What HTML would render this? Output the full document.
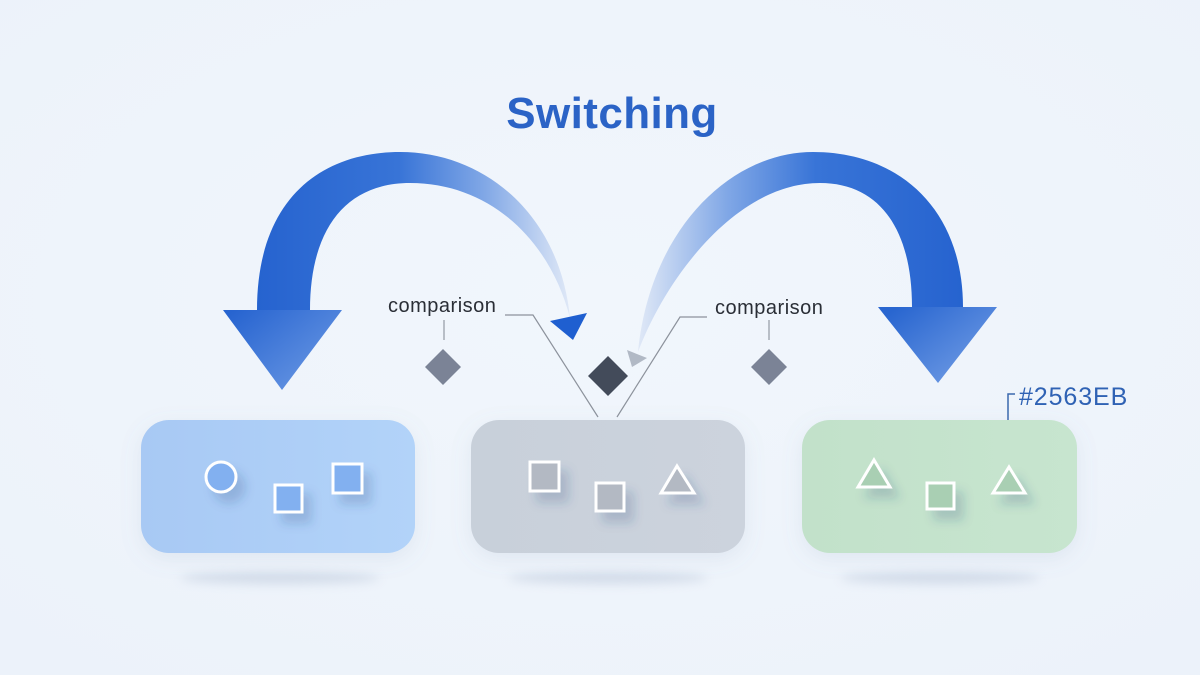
<!DOCTYPE html>
<html><head><meta charset="utf-8"><style>
html,body{margin:0;padding:0;background:#eef4fb;}
svg{display:block;}
text{font-family:"Liberation Sans",sans-serif;}
</style></head><body>
<svg width="1200" height="675" viewBox="0 0 1200 675" xmlns="http://www.w3.org/2000/svg">
<defs>
<radialGradient id="bg" cx="0.5" cy="0.45" r="0.75">
<stop offset="0" stop-color="#f1f6fc"/><stop offset="1" stop-color="#ecf2fa"/>
</radialGradient>
<linearGradient id="gl" gradientUnits="userSpaceOnUse" x1="257" y1="0" x2="572" y2="0">
<stop offset="0" stop-color="#2663cf"/><stop offset="0.45" stop-color="#3874d7"/><stop offset="0.72" stop-color="#80a7e6"/><stop offset="1" stop-color="#e2eaf7"/>
</linearGradient>
<linearGradient id="gr" gradientUnits="userSpaceOnUse" x1="636" y1="0" x2="963" y2="0">
<stop offset="0" stop-color="#e2eaf7"/><stop offset="0.28" stop-color="#80a7e6"/><stop offset="0.55" stop-color="#3874d7"/><stop offset="1" stop-color="#2663cf"/>
</linearGradient>
<linearGradient id="hl" gradientUnits="userSpaceOnUse" x1="240" y1="305" x2="310" y2="390">
<stop offset="0" stop-color="#2764d0"/><stop offset="1" stop-color="#6594e2"/>
</linearGradient>
<linearGradient id="hr" gradientUnits="userSpaceOnUse" x1="900" y1="305" x2="960" y2="385">
<stop offset="0" stop-color="#2966d0"/><stop offset="1" stop-color="#6b98e3"/>
</linearGradient>
<linearGradient id="bl" x1="0" y1="0" x2="1" y2="0">
<stop offset="0" stop-color="#a8c9f4"/><stop offset="1" stop-color="#b2d3f9"/>
</linearGradient>
<linearGradient id="bm" x1="0" y1="0" x2="1" y2="0">
<stop offset="0" stop-color="#c8d0da"/><stop offset="1" stop-color="#ccd3dd"/>
</linearGradient>
<linearGradient id="bg3" x1="0" y1="0" x2="1" y2="0">
<stop offset="0" stop-color="#c2e1ca"/><stop offset="1" stop-color="#c7e5cf"/>
</linearGradient>
<filter id="sh" x="-50%" y="-50%" width="250%" height="250%">
<feDropShadow dx="8" dy="10" stdDeviation="5" flood-color="#2a4a7a" flood-opacity="0.2"/>
</filter>
<filter id="bsh" x="-20%" y="-30%" width="140%" height="160%">
<feDropShadow dx="0" dy="6" stdDeviation="10" flood-color="#7890b0" flood-opacity="0.13"/>
</filter>
<filter id="blur" x="-30%" y="-300%" width="160%" height="700%"><feGaussianBlur stdDeviation="5"/></filter>
</defs>
<rect width="1200" height="675" fill="url(#bg)"/>

<!-- title -->
<text x="612" y="128" text-anchor="middle" font-size="44" font-weight="bold" fill="#2b63c6" letter-spacing="0.4">Switching</text>

<!-- left arrow -->
<path d="M257,310 C257,200 320,152 400,152 C485,152 560,215 570,318 C550,240 490,183 410,183 C345,183 310,230 310,310 Z" fill="url(#gl)"/>
<polygon points="223,310 342,310 282,390" fill="url(#hl)"/>
<polygon points="550,321 587,313 573,340" fill="#1f5fd0"/>

<!-- right arrow -->
<path d="M963,307 C963,210 900,152 813,152 C730,152 650,230 638,352 C665,280 735,183 820,183 C880,183 912,230 912,307 Z" fill="url(#gr)"/>
<polygon points="878,307 997,307 938,383" fill="url(#hr)"/>
<polygon points="627,350 647,358 632,367" fill="#b1b9c5"/>

<!-- labels -->
<text x="388" y="312" font-size="20" fill="#2a2e36" letter-spacing="0.5">comparison</text>
<text x="715" y="314" font-size="20" fill="#2a2e36" letter-spacing="0.5">comparison</text>
<line x1="444" y1="320" x2="444" y2="340" stroke="#9aa0aa" stroke-width="1.3"/>
<line x1="769" y1="320" x2="769" y2="340" stroke="#9aa0aa" stroke-width="1.3"/>
<polyline points="505,315 533,315 598,417" fill="none" stroke="#8c929c" stroke-width="1.2"/>
<polyline points="617,417 680,317 707,317" fill="none" stroke="#8c929c" stroke-width="1.2"/>

<!-- diamonds -->
<polygon points="443,349 461,367 443,385 425,367" fill="#7b8396"/>
<polygon points="769,349 787,367 769,385 751,367" fill="#7b8396"/>
<polygon points="608,356 628,376 608,396 588,376" fill="#434b5a"/>

<!-- hex label -->
<polyline points="1015,394 1008,394 1008,442" fill="none" stroke="#3a68ae" stroke-width="1.5"/>
<text x="1019" y="405" font-size="25" fill="#2f62b4" letter-spacing="0.9">#2563EB</text>

<!-- floor shadows -->
<ellipse cx="280" cy="578" rx="100" ry="6" fill="#a9b8cf" opacity="0.4" filter="url(#blur)"/>
<ellipse cx="608" cy="578" rx="100" ry="6" fill="#a9b8cf" opacity="0.4" filter="url(#blur)"/>
<ellipse cx="940" cy="578" rx="100" ry="6" fill="#a9b8cf" opacity="0.4" filter="url(#blur)"/>

<!-- boxes -->
<rect x="141" y="420" width="274" height="133" rx="28" fill="url(#bl)" filter="url(#bsh)"/>
<rect x="471" y="420" width="274" height="133" rx="28" fill="url(#bm)" filter="url(#bsh)"/>
<rect x="802" y="420" width="275" height="133" rx="28" fill="url(#bg3)" filter="url(#bsh)"/>

<!-- left box shapes -->
<g stroke="#ffffff" stroke-width="3" filter="url(#sh)" fill="#82b0f0">
<circle cx="221" cy="477" r="15"/>
<rect x="275" y="485" width="27" height="27"/>
<rect x="333" y="464" width="29" height="29"/>
</g>
<!-- middle box shapes -->
<g stroke="#ffffff" stroke-width="3" filter="url(#sh)" fill="#b3b9c3">
<rect x="530" y="462" width="29" height="29"/>
<rect x="596" y="483" width="28" height="28"/>
<polygon points="677,466 694,493 661,493"/>
</g>
<!-- right box shapes -->
<g stroke="#ffffff" stroke-width="3" filter="url(#sh)" fill="#a9cfb3">
<polygon points="874,460 890,487 858,487"/>
<rect x="927" y="483" width="27" height="26"/>
<polygon points="1009,467 1025,493 993,493"/>
</g>
</svg>
</body></html>
